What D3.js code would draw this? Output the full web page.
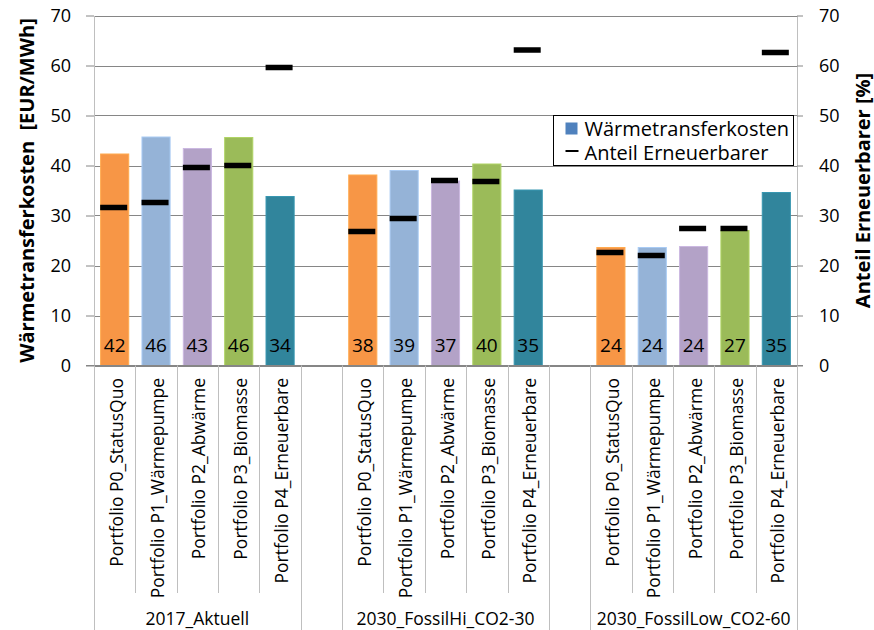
<!DOCTYPE html>
<html>
<head>
<meta charset="utf-8">
<script src="https://cdn.jsdelivr.net/npm/d3@7"></script>
<style>
  html, body { margin: 0; padding: 0; background: #fff; }
  svg { display: block; font-family: "Open Sans", sans-serif; }
</style>
</head>
<body>
<svg id="chart" width="874" height="630"></svg>
<script>
// Portfolios shown within each scenario group
const portfolios = [
  "Portfolio P0_StatusQuo",
  "Portfolio P1_Wärmepumpe",
  "Portfolio P2_Abwärme",
  "Portfolio P3_Biomasse",
  "Portfolio P4_Erneuerbare"
];
const scenarios = ["2017_Aktuell", "2030_FossilHi_CO2-30", "2030_FossilLow_CO2-60"];
const portfolioColors = ["#F79646", "#95B3D7", "#B3A2C7", "#9BBB59", "#31859C"];

// Wärmetransferkosten [EUR/MWh] per scenario (P0..P4)
const costAktuell   = [42.3, 45.7, 43.4, 45.6, 33.8];
const costFossilHi  = [38.1, 39.0, 36.9, 40.3, 35.1];
const costFossilLow = [23.6, 23.6, 23.8, 27.0, 34.6];

// Anteil Erneuerbarer [%] per scenario (P0..P4)
const shareAktuell   = [31.6, 32.6, 39.6, 40.0, 59.6];
const shareFossilHi  = [26.8, 29.4, 37.0, 36.8, 63.1];
const shareFossilLow = [22.6, 22.0, 27.4, 27.4, 62.6];

const yTicks = [0, 10, 20, 30, 40, 50, 60, 70];
const legendLabels = ["Wärmetransferkosten", "Anteil Erneuerbarer"];
const leftTitle = "Wärmetransferkosten\u00a0\u00a0[EUR/MWh]";
const rightTitle = "Anteil Erneuerbarer [%]";

const costs = [costAktuell, costFossilHi, costFossilLow];
const shares = [shareAktuell, shareFossilHi, shareFossilLow];

// Flat rows; an empty slot separates the scenario groups
const slots = [];
const rows = [];
scenarios.forEach((s, g) => {
  if (g > 0) slots.push("gap" + g);
  portfolios.forEach((p, i) => {
    const key = g + "|" + i;
    slots.push(key);
    rows.push({ key, group: g, idx: i, cost: costs[g][i], share: shares[g][i] });
  });
});

const svg = d3.select("#chart");
const plot = { left: 94, right: 797, top: 15.5, bottom: 365.5 };

const x = d3.scaleBand()
  .domain(slots)
  .range([plot.left, plot.right])
  .paddingInner(0.32)
  .paddingOuter(0.16);
const y = d3.scaleLinear().domain([0, 70]).range([plot.bottom, plot.top]);
const y2 = d3.scaleLinear().domain([0, 70]).range([plot.bottom, plot.top]);

// Horizontal gridlines
svg.append("g")
  .selectAll("line")
  .data(yTicks)
  .join("line")
  .attr("x1", plot.left).attr("x2", plot.right)
  .attr("y1", d => Math.round(y(d)) + 0.5).attr("y2", d => Math.round(y(d)) + 0.5)
  .attr("stroke", "#868686").attr("stroke-width", 1);

// Left value axis
const axL = svg.append("g")
  .attr("transform", `translate(${plot.left},0)`)
  .call(d3.axisLeft(y).tickValues(yTicks).tickSize(8).tickSizeOuter(0).tickPadding(15));
axL.select(".domain").attr("stroke", "#BFBFBF");
axL.selectAll(".tick line").attr("stroke", "#868686");
axL.selectAll(".tick text").attr("font-size", 18).attr("fill", "#000")
  .attr("font-family", "Open Sans");

// Right value axis
const axR = svg.append("g")
  .attr("transform", `translate(${plot.right},0)`)
  .call(d3.axisRight(y2).tickValues(yTicks).tickSize(6).tickSizeOuter(0).tickPadding(16));
axR.select(".domain").attr("stroke", "#BFBFBF");
axR.selectAll(".tick line").attr("stroke", "#868686");
axR.selectAll(".tick text").attr("font-size", 18).attr("fill", "#000")
  .attr("font-family", "Open Sans");

// Bars
svg.append("g")
  .selectAll("rect")
  .data(rows)
  .join("rect")
  .attr("x", d => x(d.key))
  .attr("width", x.bandwidth())
  .attr("y", d => y(d.cost))
  .attr("height", d => y(0) - y(d.cost))
  .attr("fill", d => portfolioColors[d.idx])
  .attr("stroke", d => d3.color(portfolioColors[d.idx]).brighter(0.35))
  .attr("stroke-width", 1);

// Bar value labels
svg.append("g")
  .selectAll("text")
  .data(rows)
  .join("text")
  .attr("x", d => x(d.key) + x.bandwidth() / 2)
  .attr("y", 352)
  .attr("text-anchor", "middle")
  .attr("font-size", 19)
  .attr("fill", "#000")
  .text(d => d3.format(".0f")(d.cost));

// Zero line across the plot
svg.append("line")
  .attr("x1", plot.left - 8).attr("x2", plot.right + 6)
  .attr("y1", y(0)).attr("y2", y(0))
  .attr("stroke", "#868686");

// Share markers (dash per category on the secondary axis)
const dashW = 27, dashH = 5.5;
svg.append("g")
  .selectAll("rect")
  .data(rows)
  .join("rect")
  .attr("x", d => x(d.key) + x.bandwidth() / 2 - dashW / 2 - 1)
  .attr("y", d => y2(d.share) - dashH / 2)
  .attr("width", dashW)
  .attr("height", dashH)
  .attr("fill", "#000");

// Category axis: separators and labels
const step = x.step();
const edge = i => plot.left + i * step;
const catAxis = svg.append("g");
slots.forEach((s, i) => {
  if (i === 0) return;
  const isGroupEdge = s.startsWith("gap") || slots[i - 1].startsWith("gap");
  catAxis.append("line")
    .attr("x1", Math.round(edge(i)) + 0.5).attr("x2", Math.round(edge(i)) + 0.5)
    .attr("y1", plot.bottom).attr("y2", isGroupEdge ? 630 : 593)
    .attr("stroke", "#BFBFBF");
});
[plot.left, plot.right].forEach(px => {
  catAxis.append("line")
    .attr("x1", px + 0.5).attr("x2", px + 0.5)
    .attr("y1", plot.bottom).attr("y2", 630)
    .attr("stroke", "#BFBFBF");
});

catAxis.selectAll("text.cat")
  .data(rows)
  .join("text")
  .attr("class", "cat")
  .attr("transform", d => `translate(${x(d.key) + x.bandwidth() / 2 + 1},378) rotate(-90)`)
  .attr("text-anchor", "end")
  .attr("dominant-baseline", "central")
  .attr("font-size", 17.5)
  .attr("fill", "#000")
  .text(d => portfolios[d.idx]);

catAxis.selectAll("text.grp")
  .data(scenarios)
  .join("text")
  .attr("class", "grp")
  .attr("x", (s, g) => {
    const first = x(g + "|0"), last = x(g + "|4") + x.bandwidth();
    return (first + last) / 2;
  })
  .attr("y", 625)
  .attr("text-anchor", "middle")
  .attr("font-size", 17.5)
  .attr("fill", "#000")
  .text(d => d);

// Axis titles
svg.append("text")
  .attr("transform", `translate(26,${(plot.top + plot.bottom) / 2}) rotate(-90)`)
  .attr("text-anchor", "middle")
  .attr("dominant-baseline", "central")
  .attr("font-size", 20)
  .attr("font-weight", "bold")
  .attr("fill", "#000")
  .text(leftTitle);

svg.append("text")
  .attr("transform", `translate(862,${(plot.top + plot.bottom) / 2}) rotate(-90)`)
  .attr("text-anchor", "middle")
  .attr("dominant-baseline", "central")
  .attr("font-size", 20)
  .attr("font-weight", "bold")
  .attr("fill", "#000")
  .text(rightTitle);

// Legend
const lg = svg.append("g").attr("transform", "translate(553.5,115.5)");
lg.append("rect")
  .attr("width", 240).attr("height", 50)
  .attr("fill", "#fff").attr("stroke", "#000").attr("stroke-width", 1);
lg.append("rect")
  .attr("x", 12).attr("y", 7).attr("width", 12).attr("height", 12)
  .attr("fill", "#4F81BD");
lg.append("line")
  .attr("x1", 12).attr("x2", 25).attr("y1", 35.5).attr("y2", 35.5)
  .attr("stroke", "#000").attr("stroke-width", 2);
lg.selectAll("text")
  .data(legendLabels)
  .join("text")
  .attr("x", 31)
  .attr("y", (d, i) => 20 + i * 24.5)
  .attr("font-size", 20)
  .attr("fill", "#000")
  .text(d => d);
</script>
</body>
</html>
